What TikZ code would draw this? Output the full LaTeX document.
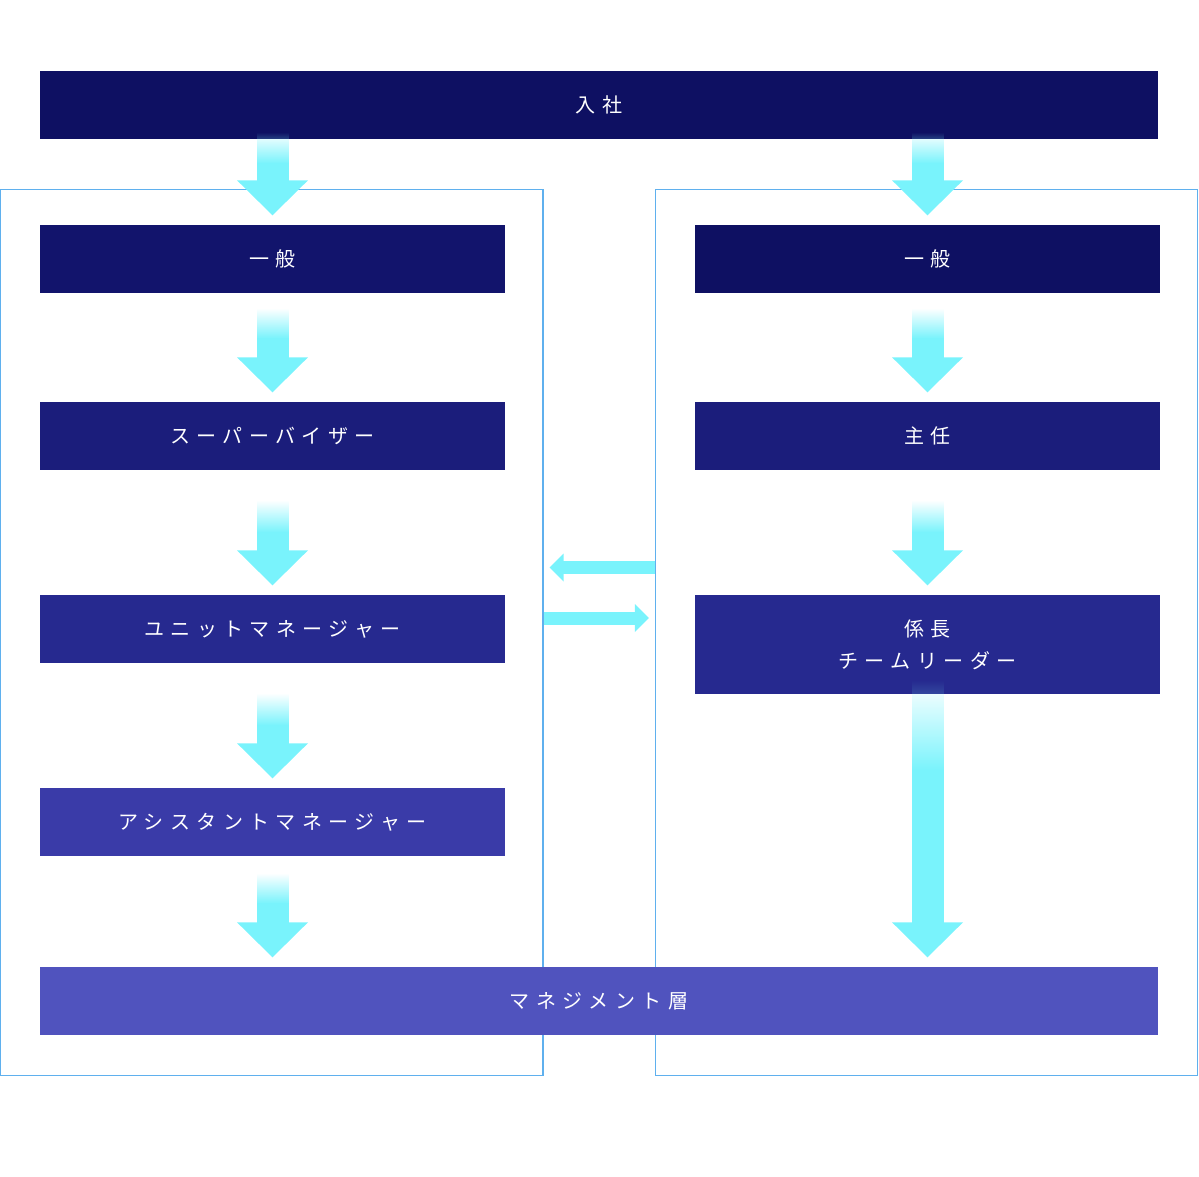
\documentclass[tikz,border=0pt]{standalone}
\usepackage{fontspec}
\newfontfamily\jpfont[LetterSpace=32]{Noto Sans CJK JP}
\usetikzlibrary{calc,fadings,positioning}

\definecolor{joincol}{HTML}{0E1062}
\definecolor{stepa}{HTML}{12146C}
\definecolor{stepb}{HTML}{1B1D7B}
\definecolor{stepc}{HTML}{26298F}
\definecolor{stepd}{HTML}{3A3BA8}
\definecolor{stepe}{HTML}{5053BE}
\definecolor{flowcyan}{HTML}{79F3FC}
\definecolor{framecol}{HTML}{5FB0EE}

\tikzfading[name=fadedown, top color=transparent!100, bottom color=transparent!0]

% down arrow: from node, to node, start offset below from.south, fade length, column node
\newcommand{\flowarrow}[5]{%
  \coordinate (top) at ($(#1.south -| #5.center)+(0,#3)$);
  \coordinate (tip) at ($(#2.north -| #5.center)+(0,-9.5)$);
  \coordinate (head) at ($(tip)+(0,-35)$);
  \fill[flowcyan, path fading=fadedown] ($(top)+(-16,0)$) rectangle ($(top)+(16,#4)$);
  \fill[flowcyan] ($(top)+(-16,#4-0.3)$) rectangle ($(head)+(16,0.5)$);
  \fill[flowcyan] ($(head)+(-35.5,0)$) -- ($(head)+(35.5,0)$) -- (tip) -- cycle;
}

\begin{document}
\begin{tikzpicture}[
    x=1pt, y=-1pt,
    box/.style={fill=#1, text=white, minimum width=465, minimum height=68, inner sep=0,
                align=center, font=\jpfont\fontsize{20}{32}\selectfont},
    wide/.style={box=#1, minimum width=1118},
    frame/.style={draw=framecol, line width=1.2, minimum width=542.4, minimum height=886, inner sep=0}
]
\useasboundingbox (0,0) rectangle (1199,1176);

% Frames
\node[frame] (leftframe) at (271.8,632.5) {};
\node[frame] (rightframe) at (926.6,632.5) {};

% Boxes
\node[wide=joincol] (join) at (599,105) {入社};

\node[box=stepa] (ippanL) at (272.5,259) {一般};
\node[box=stepb] (super) at (272.5,436) {スーパーバイザー};
\node[box=stepc] (unit) at (272.5,629) {ユニットマネージャー};
\node[box=stepd] (assist) at (272.5,822) {アシスタントマネージャー};

\node[box=joincol] (ippanR) at (927.5,259) {一般};
\node[box=stepb] (shunin) at (927.5,436) {主任};
\node[box=stepc, minimum height=99] (kakari) at (927.5,644.5) {係長\\チームリーダー};

\node[wide=stepe] (mgmt) at (599,1001) {マネジメント層};

% Down arrows
\flowarrow{join}{ippanL}{-7}{31}{ippanL}
\flowarrow{ippanL}{super}{15}{30}{ippanL}
\flowarrow{super}{unit}{30}{32}{super}
\flowarrow{unit}{assist}{30}{32}{unit}
\flowarrow{assist}{mgmt}{17}{30}{assist}
\flowarrow{join}{ippanR}{-7}{31}{ippanR}
\flowarrow{ippanR}{shunin}{15}{30}{ippanR}
\flowarrow{shunin}{kakari}{30}{32}{shunin}
\flowarrow{kakari}{mgmt}{-14}{90}{kakari}

% Side arrows between the two tracks
\coordinate (ls) at ($(rightframe.west |- unit.center)+(0,-61.5)$);
\coordinate (lt) at ($(leftframe.east |- ls)+(6,0)$);
\fill[flowcyan] ($(ls)+(0,-6.5)$) rectangle ($(lt)+(13.5,6.5)$);
\fill[flowcyan] ($(lt)+(14,-14)$) -- (lt) -- ($(lt)+(14,14)$) -- cycle;

\coordinate (rs) at ($(leftframe.east |- unit.center)+(0,-11)$);
\coordinate (rt) at ($(rightframe.west |- rs)+(-6,0)$);
\fill[flowcyan] ($(rs)+(0,-6.5)$) rectangle ($(rt)+(-13.5,6.5)$);
\fill[flowcyan] ($(rt)+(-14,-14)$) -- (rt) -- ($(rt)+(-14,14)$) -- cycle;

\end{tikzpicture}
\end{document}
